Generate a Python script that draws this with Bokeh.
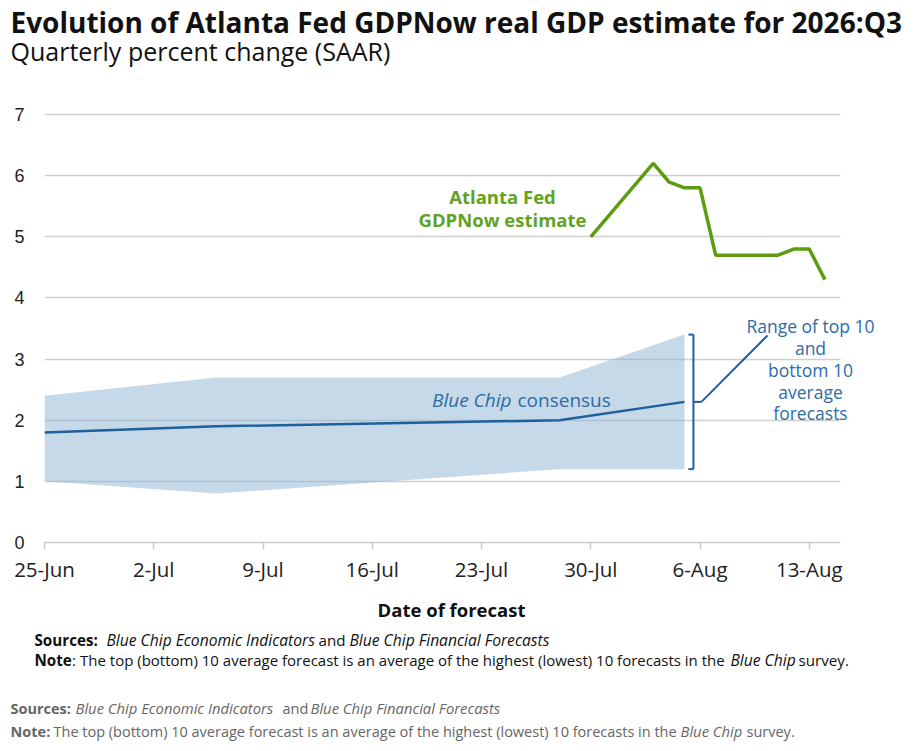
import pandas as pd
from bokeh.plotting import figure
from bokeh.layouts import column
from bokeh.models import Label, FixedTicker, BoxAnnotation
from bokeh.embed import file_html
from bokeh.resources import INLINE

# ---------------- data ----------------
TITLE = "Evolution of Atlanta Fed GDPNow real GDP estimate for 2026:Q3"
SUBTITLE = "Quarterly percent change (SAAR)"
X_LABEL = "Date of forecast"

start_date = "2026-06-25"
end_date = "2026-08-15"

gdpnow_dates = ["2026-07-30", "2026-08-03", "2026-08-04", "2026-08-05", "2026-08-06",
                "2026-08-07", "2026-08-11", "2026-08-12", "2026-08-13", "2026-08-14"]
gdpnow_values = [5.0, 6.2, 5.9, 5.8, 5.8, 4.7, 4.7, 4.8, 4.8, 4.3]

bluechip_dates = ["2026-06-25", "2026-07-06", "2026-07-28", "2026-08-05"]
bluechip_consensus = [1.8, 1.9, 2.0, 2.3]
bluechip_top10 = [2.4, 2.7, 2.7, 3.4]
bluechip_bottom10 = [1.0, 0.8, 1.2, 1.2]

tick_dates = ["2026-06-25", "2026-07-02", "2026-07-09", "2026-07-16",
              "2026-07-23", "2026-07-30", "2026-08-06", "2026-08-13"]
tick_labels = ["25-Jun", "2-Jul", "9-Jul", "16-Jul", "23-Jul", "30-Jul", "6-Aug", "13-Aug"]
y_ticks = [0, 1, 2, 3, 4, 5, 6, 7]

range_note = ["Range of top 10", "and", "bottom 10", "average", "forecasts"]

# ---------------- layout constants (page pixels) ----------------
W = 915
TOP_H = 70           # title block
MAIN_H = 527         # chart block
BOT_H = 146          # axis title + footnote block
FRAME_L, FRAME_R_GRID, FRAME_B = 44, 840, 542   # chart area in page pixels
Y7_PAGE = 114
BASE_FIX = 0.37      # rendered baseline sits this many em below the anchor

t0 = pd.Timestamp(start_date)


def days(ds):
    return [(pd.Timestamp(d) - t0).days for d in ds]


x_end = days([end_date])[0]
PXD = (FRAME_R_GRID - FRAME_L) / x_end
PXY = (FRAME_B - Y7_PAGE) / y_ticks[-1]
x_view_end = x_end + (W - FRAME_R_GRID) / PXD
y_view_end = (FRAME_B - TOP_H) / PXY


def dx(px):  # page pixel -> data x
    return (px - FRAME_L) / PXD


def dy(py):  # page pixel -> data y
    return (FRAME_B - py) / PXY


GREEN = "#5c9c12"
GREEN_T = "#62a222"
BLUE = "#1f5f9c"
BLUE_T = "#2d6ca6"
FONT = "Open Sans"


def no_align(f):
    try:
        f.frame_align = False
    except AttributeError:
        pass


def blank(h):
    f = figure(width=W, height=h, x_range=(0, W), y_range=(0, h),
               output_backend="svg", toolbar_location=None, title=None,
               x_axis_location=None, y_axis_location=None, min_border=0)
    f.outline_line_color = None
    f.grid.grid_line_color = None
    no_align(f)
    return f


def add_label(fig, text, x, y, size, color, style="normal", align="left", font=FONT):
    fig.add_layout(Label(x=x, y=y, text=text, text_font=font,
                         text_font_size=f"{size}px", text_color=color,
                         text_font_style=style, text_align=align,
                         text_baseline="alphabetic"))


# ---------------- title block ----------------
top = blank(TOP_H)
add_label(top, TITLE, 10, TOP_H - (32 - BASE_FIX * 28), 28, "#111111", "bold")
add_label(top, SUBTITLE, 10, TOP_H - (60 - BASE_FIX * 25), 25, "#111111")

# ---------------- chart ----------------
p = figure(width=W, height=MAIN_H, x_range=(0, x_view_end), y_range=(0, y_view_end),
           output_backend="svg", toolbar_location=None, title=None,
           min_border_left=FRAME_L, min_border_right=0, min_border_top=0,
           min_border_bottom=MAIN_H - (FRAME_B - TOP_H))
no_align(p)
p.outline_line_color = None
p.background_fill_color = "white"
p.border_fill_color = "white"

p.xgrid.grid_line_color = None
p.ygrid.grid_line_color = "#cfcfcf"
p.ygrid.grid_line_width = 1.5
p.ygrid.ticker = FixedTicker(ticks=y_ticks)

# keep the grid inside the dated span (the annotation text runs past it)
p.add_layout(BoxAnnotation(left=x_end, fill_color="white", fill_alpha=1.0,
                           line_color=None, level="underlay"))

p.yaxis.ticker = FixedTicker(ticks=y_ticks)
p.yaxis.axis_line_color = None
p.yaxis.major_tick_line_color = None
p.yaxis.minor_tick_line_color = None
p.yaxis.major_label_text_font = "Liberation Sans"
p.yaxis.major_label_text_font_size = "18px"
p.yaxis.major_label_text_color = "#222222"
p.yaxis.major_label_standoff = 14

tick_x = days(tick_dates)
p.xaxis.ticker = FixedTicker(ticks=tick_x)
p.xaxis.bounds = (0, x_end)
p.xaxis.major_label_overrides = {t: l for t, l in zip(tick_x, tick_labels)}
p.xaxis.axis_line_color = "#cccccc"
p.xaxis.axis_line_width = 1.5
p.xaxis.major_tick_line_color = "#cccccc"
p.xaxis.major_tick_line_width = 1.5
p.xaxis.major_tick_in = 0
p.xaxis.major_tick_out = 7
p.xaxis.minor_tick_line_color = None
p.xaxis.major_label_text_font = FONT
p.xaxis.major_label_text_font_size = "20.5px"
p.xaxis.major_label_text_color = "#222222"
p.xaxis.major_label_standoff = 5

bx = days(bluechip_dates)
p.varea(x=bx, y1=bluechip_bottom10, y2=bluechip_top10, fill_color="#8db4d4", fill_alpha=0.5)
p.line(bx, bluechip_consensus, line_color=BLUE, line_width=2.5)

gx = days(gdpnow_dates)
p.line(gx, gdpnow_values, line_color=GREEN, line_width=3.5)

# bracket for the range at the latest Blue Chip survey
xb = bx[-1] + 9 / PXD
rt, rb = bluechip_top10[-1], bluechip_bottom10[-1]
mid = (rt + rb) / 2
serif = 5 / PXD
p.segment(x0=[xb, xb - serif, xb - serif, xb, xb + 8 / PXD],
          y0=[rb, rt, rb, mid, mid],
          x1=[xb, xb, xb, xb + 8 / PXD, dx(767)],
          y1=[rt, rt, rb, mid, dy(335)],
          line_color=BLUE, line_width=2)


def lab(text, px, py, size, color, style="normal", align="left"):
    add_label(p, text, dx(px), dy(py - BASE_FIX * size), size, color, style, align)


lab("Atlanta Fed", 502, 203, 18.5, GREEN_T, "bold", "center")
lab("GDPNow estimate", 502, 226, 18.5, GREEN_T, "bold", "center")
lab("Blue Chip", 511, 407, 19, BLUE_T, "italic", "right")
lab("consensus", 517, 407, 19, BLUE_T)
for line, base in zip(range_note, [332, 354, 376, 398, 419]):
    lab(line, 810, base, 17.5, BLUE_T, "normal", "center")

# ---------------- axis title + footnotes ----------------
bot = blank(BOT_H)
B0 = TOP_H + MAIN_H + BOT_H   # page y of bottom edge


def fn(text, px, py, size, color, style="normal", align="left"):
    add_label(bot, text, px, B0 - (py - BASE_FIX * size), size, color, style, align)


fn(X_LABEL, 451, 616, 18.5, "#111111", "bold", "center")

FN, FNI = 15.2, 15.6
K = "#111111"
fn("Sources:", 34, 645.5, FN, K, "bold")
fn("Blue Chip Economic Indicators", 106, 645.5, FNI, K, "italic")
fn("and", 318, 645.5, FN, K)
fn("Blue Chip Financial Forecasts", 349, 645.5, FNI, K, "italic")
fn("Note", 34, 665, FN, K, "bold")
fn(":", 71.5, 665, FN, K)
fn("The top (bottom) 10 average forecast is an average of the highest (lowest) 10 forecasts in the",
   79.5, 665, 15.0, K)
fn("Blue Chip", 730, 665, FNI, K, "italic")
fn("survey.", 798, 665, FN, K)

FG, FGI = 14.5, 14.8
GR = "#666666"
fn("Sources:", 10, 713, FG, GR, "bold")
fn("Blue Chip Economic Indicators", 75, 713, FGI, GR, "italic")
fn("and", 282, 713, FG, GR)
fn("Blue Chip Financial Forecasts", 310, 713, FGI, GR, "italic")
fn("Note:", 10, 736, FG, GR, "bold")
fn("The top (bottom) 10 average forecast is an average of the highest (lowest) 10 forecasts in the",
   53, 736, FG, GR)
fn("Blue Chip", 680, 736, FGI, GR, "italic")
fn("survey.", 746, 736, FG, GR)

layout = column(top, p, bot, spacing=0)
open("out.html", "w").write(file_html(layout, INLINE))
